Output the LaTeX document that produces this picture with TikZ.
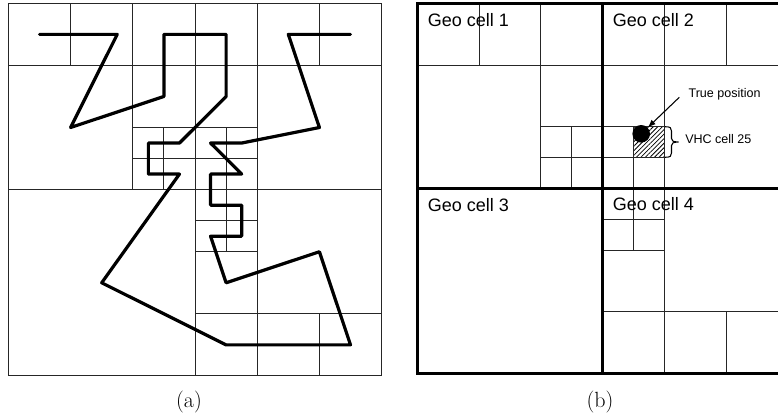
\documentclass[tikz,border=0pt]{standalone}
\usepackage{fontspec}
\newfontfamily\arialf{Liberation Sans}
\usetikzlibrary{patterns.meta,arrows.meta}
\begin{document}
\begin{tikzpicture}[x=0.75pt,y=-0.75pt,
  grid/.style={line width=0.7pt, black!85},
  curvepath/.style={line width=2.4pt, line join=round, line cap=round},
  geo/.style={line width=2.6pt},
  geolabel/.style={anchor=base west, inner sep=0pt, font=\arialf\fontsize{13.5}{16}\selectfont},
  smalllabel/.style={anchor=base west, inner sep=0pt, font=\arialf\fontsize{9.4}{11}\selectfont},
  caption/.style={anchor=base, inner sep=0pt, font=\fontsize{16.5}{20}\selectfont}]
\useasboundingbox (0,0) rectangle (778,418);

% ---------------- (a) ----------------
\begin{scope}[shift={(8.4,3.3)}, x=46.65pt, y=-46.58pt]
  \draw[grid] (0,0) rectangle (6,6);
  \draw[grid] (0,1) -- (6,1) (0,3) -- (6,3) (3,5) -- (6,5);
  \draw[grid] (1,0) -- (1,1) (5,0) -- (5,1) (2,0) -- (2,3) (3,0) -- (3,6) (4,0) -- (4,6);
  \draw[grid] (2,2) -- (4,2) (2,2.5) -- (4,2.5) (2.5,2) -- (2.5,3) (3.5,2) -- (3.5,3);
  \draw[grid] (3,3.5) -- (4,3.5) (3,4) -- (4,4) (3.5,3) -- (3.5,4) (5,5) -- (5,6);
  \draw[curvepath] (0.5,0.5) -- (1.75,0.5) -- (1,2) -- (2.5,1.5) -- (2.5,0.5) -- (3.5,0.5)
    -- (3.5,1.5) -- (2.75,2.25) -- (2.25,2.25) -- (2.25,2.75) -- (2.75,2.75) -- (1.5,4.5)
    -- (3.5,5.5) -- (5.5,5.5) -- (5,4) -- (3.5,4.5) -- (3.25,3.75) -- (3.75,3.75)
    -- (3.75,3.25) -- (3.25,3.25) -- (3.25,2.75) -- (3.75,2.75) -- (3.25,2.25)
    -- (3.75,2.25) -- (5,2) -- (4.5,0.5) -- (5.5,0.5);
\end{scope}
\node[caption] (capa) at (189,407.3) {(a)};

% ---------------- (b) ----------------
\begin{scope}[shift={(417.3,3.3)}, x=46.35pt, y=-46.28pt]
  \fill[pattern={Lines[angle=45, distance=2.4pt, line width=0.6pt]}] (3.5,2) rectangle (4,2.5);
  \draw[grid] (0,1) -- (5.84,1) (1,0) -- (1,1) (5,0) -- (5,1) (2,0) -- (2,3) (4,0) -- (4,6);
  \draw[grid] (2,2) -- (4,2) (2,2.5) -- (4,2.5) (2.5,2) -- (2.5,3) (3.5,2) -- (3.5,4);
  \draw[grid] (3,3.5) -- (4,3.5) (3,4) -- (4,4) (3,5) -- (5.84,5) (5,5) -- (5,6);
  \draw[geo, line join=miter] (5.84,0) -- (0,0) -- (0,6) -- (5.84,6);
  \draw[geo] (3,0) -- (3,6) (0,3) -- (5.84,3);
\end{scope}
\node[geolabel] (g1) at (427.5,26.5) {Geo cell 1};
\node[geolabel] (g2) at (612.5,26.5) {Geo cell 2};
\node[geolabel] (g3) at (427.5,211.5) {Geo cell 3};
\node[geolabel] (g4) at (612.5,210.5) {Geo cell 4};

\node[circle, fill=black, inner sep=0pt, minimum size=13.2pt] (dot) at (641.2,133.8) {};
\node[smalllabel] (tp) at (688.3,97) {True position};
\node[smalllabel] (vhc) at (685,143.3) {VHC cell 25};
\coordinate (tpfoot) at (679.3,97.3);
\draw[line width=0.8pt, -{Latex[length=6pt,width=4.5pt]}] (tpfoot) -- (dot);
\draw[line width=0.8pt] (665,126.7) .. controls (670.5,126.7) and (671.5,128) .. (671.5,131)
  -- (671.5,138.5) .. controls (671.5,141) and (673,141.8) .. (678.5,142)
  .. controls (673,142.2) and (671.5,143) .. (671.5,145.5)
  -- (671.5,153) .. controls (671.5,156) and (670.5,157.3) .. (665,157.3);
\node[caption] (capb) at (600,407.3) {(b)};
\end{tikzpicture}
\end{document}
